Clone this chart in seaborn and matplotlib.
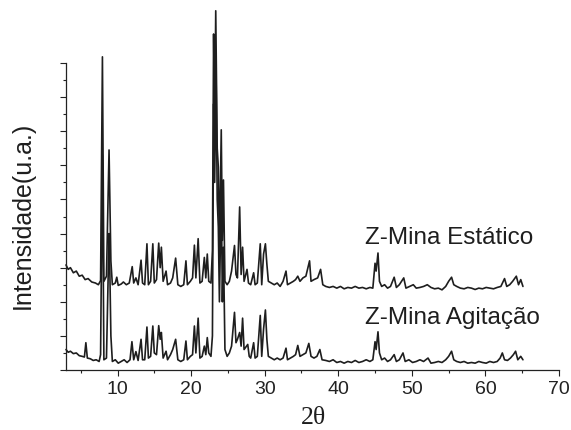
import matplotlib
matplotlib.use('Agg')
import matplotlib.pyplot as plt
import seaborn as sns
from matplotlib.ticker import MultipleLocator, NullFormatter

# XRD patterns (2theta in degrees, stacked intensity in a.u.)
# Z-Mina Estatico (upper trace)
est_2theta = [3.0, 3.3, 3.6, 4.0, 4.4, 4.8, 5.2, 5.6, 6.0, 6.5, 7.0, 7.4, 7.7,
              7.95, 8.15, 8.5, 8.85, 8.95, 9.1, 9.3, 9.7, 9.9, 10.1, 10.5, 10.8, 11.2, 11.6,
              12.0, 12.2, 12.5, 12.8, 13.2, 13.4, 13.7, 14.0, 14.2, 14.5, 14.8, 15.0, 15.3,
              15.6, 15.8, 15.96, 16.2, 16.6, 16.8, 17.2, 17.5, 17.9, 18.2, 18.6, 19.0, 19.3,
              19.5, 19.9, 20.2, 20.45, 20.65, 20.96, 21.2, 21.5, 21.8, 22.0, 22.2, 22.4, 22.7,
              22.9, 23.06, 23.2, 23.35, 23.55, 23.7, 23.85, 24.1, 24.25, 24.4, 24.6, 24.9,
              25.2, 25.5, 25.9, 26.1, 26.3, 26.6, 26.8, 27.0, 27.2, 27.6, 27.8, 28.1, 28.5,
              28.7, 29.0, 29.4, 29.6, 29.85, 30.1, 30.3, 30.5, 30.9, 31.3, 31.7, 32.1, 32.5,
              32.9, 33.1, 33.5, 33.9, 34.2, 34.5, 34.8, 35.2, 35.6, 36.1, 36.3, 36.7, 37.2,
              37.6, 37.9, 38.3, 38.8, 39.3, 39.8, 40.3, 40.8, 41.3, 41.8, 42.3, 42.8, 43.3,
              43.8, 44.3, 44.7, 45.0, 45.15, 45.4, 45.6, 45.9, 46.3, 46.7, 47.1, 47.6, 47.9,
              48.3, 48.9, 49.2, 49.7, 50.2, 50.6, 51.1, 51.6, 52.1, 52.6, 53.1, 53.6, 54.1,
              54.6, 55.0, 55.4, 55.7, 56.1, 56.6, 57.1, 57.6, 58.1, 58.6, 59.1, 59.6, 60.1,
              60.6, 61.1, 61.6, 62.1, 62.6, 62.9, 63.3, 63.7, 64.2, 64.5, 64.8, 65.1]
est_int = [3.08, 2.95, 3.0, 2.85, 2.9, 2.75, 2.78, 2.65, 2.68, 2.58, 2.55, 2.5, 2.62,
           9.18, 2.6, 2.75, 6.45, 5.2, 3.2, 2.5, 2.55, 2.72, 2.48, 2.52, 2.58, 2.5, 2.55,
           3.03, 2.55, 2.7, 2.5, 3.22, 2.55, 2.5, 3.7, 2.5, 2.6, 3.7, 2.55, 2.65,
           3.72, 3.0, 3.6, 2.6, 2.9, 2.5, 2.55, 2.7, 3.28, 2.5, 2.45, 2.5, 3.2,
           2.5, 2.6, 2.7, 3.66, 2.7, 3.85, 2.55, 2.6, 3.3, 2.7, 3.4, 2.6, 2.55,
           3.5, 9.85, 7.0, 10.53, 6.5, 5.95, 3.5, 7.04, 3.8, 5.57, 2.6, 2.5,
           2.6, 2.9, 3.65, 2.8, 2.7, 4.78, 2.8, 3.6, 2.6, 2.95, 2.55, 2.5, 2.85,
           2.5, 2.55, 3.7, 2.5, 3.4, 3.7, 3.1, 2.6, 2.55, 2.5, 2.55, 2.45, 2.6,
           2.9, 2.5, 2.55, 2.6, 2.65, 2.75, 2.6, 2.7, 2.75, 3.2, 2.6, 2.65, 2.7,
           2.95, 2.5, 2.45, 2.42, 2.45, 2.4, 2.45, 2.38, 2.42, 2.4, 2.45, 2.4, 2.42,
           2.38, 2.42, 2.4, 3.13, 2.9, 3.43, 2.6, 2.45, 2.5, 2.4, 2.45, 2.72, 2.42,
           2.5, 2.7, 2.4, 2.45, 2.5, 2.4, 2.42, 2.45, 2.5, 2.42, 2.38, 2.4, 2.35,
           2.45, 2.6, 2.72, 2.5, 2.45, 2.4, 2.38, 2.42, 2.4, 2.36, 2.4, 2.38, 2.42,
           2.4, 2.38, 2.42, 2.45, 2.68, 2.45, 2.5, 2.6, 2.75, 2.5, 2.65, 2.45]

# Z-Mina Agitacao (lower trace)
agi_2theta = [3.0, 3.3, 3.6, 4.0, 4.4, 4.8, 5.2, 5.5, 5.7, 5.9, 6.3, 6.7, 7.1, 7.5, 7.7,
              7.95, 8.15, 8.5, 8.85, 8.95, 9.1, 9.3, 9.7, 10.1, 10.5, 10.9, 11.3, 11.7,
              11.96, 12.2, 12.5, 12.8, 13.2, 13.4, 13.7, 14.0, 14.2, 14.5, 14.8, 15.0, 15.3,
              15.6, 15.8, 15.96, 16.2, 16.6, 16.8, 17.2, 17.5, 17.9, 18.2, 18.6, 19.0, 19.3,
              19.5, 19.9, 20.2, 20.45, 20.65, 20.96, 21.2, 21.5, 21.8, 22.0, 22.2, 22.4, 22.7,
              22.9, 23.06, 23.2, 23.4, 23.55, 23.7, 23.85, 24.1, 24.25, 24.4, 24.6, 24.9,
              25.2, 25.5, 25.9, 26.1, 26.3, 26.6, 26.8, 27.0, 27.2, 27.7, 27.9, 28.1, 28.5,
              28.7, 29.0, 29.4, 29.6, 29.85, 30.1, 30.3, 30.5, 30.9, 31.3, 31.7, 32.1, 32.5,
              32.9, 33.1, 33.5, 33.9, 34.2, 34.5, 34.8, 35.2, 35.6, 36.0, 36.3, 36.7, 37.1,
              37.5, 37.8, 38.3, 38.8, 39.3, 39.8, 40.3, 40.8, 41.3, 41.8, 42.3, 42.8, 43.3,
              43.8, 44.3, 44.7, 45.0, 45.15, 45.4, 45.6, 45.9, 46.3, 46.7, 47.1, 47.6, 47.9,
              48.3, 48.8, 49.1, 49.6, 50.1, 50.6, 51.1, 51.6, 52.2, 52.6, 53.1, 53.6, 54.1,
              54.6, 55.0, 55.4, 55.7, 56.1, 56.6, 57.1, 57.6, 58.1, 58.6, 59.1, 59.6, 60.1,
              60.6, 61.1, 61.6, 62.0, 62.3, 62.6, 63.0, 63.4, 63.8, 64.1, 64.4, 64.8, 65.1]
agi_int = [0.6, 0.52, 0.55, 0.48, 0.5, 0.42, 0.4, 0.38, 0.8, 0.35, 0.33, 0.28, 0.3, 0.25, 0.45,
           6.3, 0.3, 0.35, 4.0, 3.0, 1.0, 0.25, 0.3, 0.2, 0.25, 0.3, 0.22, 0.3,
           0.83, 0.3, 0.54, 0.28, 0.9, 0.3, 0.3, 1.26, 0.35, 0.4, 1.29, 0.5, 0.45,
           1.3, 0.9, 1.1, 0.35, 0.55, 0.3, 0.45, 0.6, 0.9, 0.3, 0.25, 0.3, 0.85,
           0.3, 0.4, 0.45, 1.29, 0.5, 1.52, 0.35, 0.4, 0.7, 0.45, 0.95, 0.5, 0.4,
           1.0, 7.8, 5.5, 8.6, 5.0, 4.2, 2.0, 5.3, 2.0, 3.6, 0.6, 0.4,
           0.5, 0.7, 1.69, 0.8, 0.9, 1.1, 0.7, 1.52, 0.6, 0.75, 0.4, 0.35, 0.8,
           0.35, 0.4, 1.6, 0.4, 1.2, 1.76, 0.9, 0.4, 0.35, 0.3, 0.35, 0.3, 0.35,
           0.64, 0.3, 0.35, 0.4, 0.45, 0.72, 0.4, 0.45, 0.5, 0.78, 0.4, 0.35, 0.4,
           0.6, 0.3, 0.28, 0.25, 0.3, 0.22, 0.25, 0.2, 0.25, 0.22, 0.28, 0.22, 0.25,
           0.3, 0.25, 0.3, 0.83, 0.6, 1.12, 0.5, 0.3, 0.35, 0.25, 0.3, 0.45, 0.25,
           0.3, 0.5, 0.25, 0.3, 0.22, 0.25, 0.3, 0.25, 0.35, 0.2, 0.22, 0.25, 0.22,
           0.3, 0.4, 0.55, 0.3, 0.25, 0.22, 0.25, 0.2, 0.22, 0.2, 0.25, 0.22, 0.2,
           0.25, 0.22, 0.25, 0.35, 0.5, 0.3, 0.28, 0.35, 0.45, 0.55, 0.3, 0.4, 0.3]

sns.set_style('ticks')
plt.rcParams['font.family'] = ['Liberation Sans', 'DejaVu Sans']

fig = plt.figure(figsize=(5.71, 4.30), dpi=100)
ax = fig.add_axes([66 / 571, 60 / 430, 493 / 571, 307 / 430])

for xs, ys in [(agi_2theta, agi_int), (est_2theta, est_int)]:
    sns.lineplot(x=xs, y=ys, color='#1e1e1e', linewidth=1.2,
                 estimator=None, sort=False, ax=ax)
for ln in ax.lines:
    ln.set_clip_on(False)

ax.set_xlim(3, 70)
ax.set_ylim(0, 9)
ax.xaxis.set_major_locator(MultipleLocator(10))
ax.xaxis.set_minor_locator(MultipleLocator(5))
ax.yaxis.set_major_locator(MultipleLocator(1))
ax.yaxis.set_minor_locator(MultipleLocator(0.5))
ax.yaxis.set_major_formatter(NullFormatter())
ax.tick_params(which='major', direction='out', length=4.5, width=0.8,
               color='#222222', labelsize=14, pad=3.5, labelcolor='#222222')
ax.tick_params(which='minor', direction='out', length=2.5, width=0.8,
               color='#222222')
sns.despine(ax=ax)
for sp in ['left', 'bottom']:
    ax.spines[sp].set_linewidth(0.9)
    ax.spines[sp].set_color('#222222')

ax.text(43.6, 3.69, 'Z-Mina Estático', fontsize=17.5, va='baseline', color='#1e1e1e')
ax.text(43.6, 1.35, 'Z-Mina Agitação', fontsize=17.5, va='baseline', color='#1e1e1e')

fig.text(23 / 571, 1 - 215 / 430, 'Intensidade(u.a.)', rotation=90,
         ha='center', va='center', fontsize=18, color='#1e1e1e')
fig.text(314 / 571, 6 / 430, '2θ', ha='center', va='baseline',
         fontsize=18.5, family=['Liberation Serif', 'DejaVu Serif'], color='#1e1e1e')

fig.savefig('out.png', dpi=100)
